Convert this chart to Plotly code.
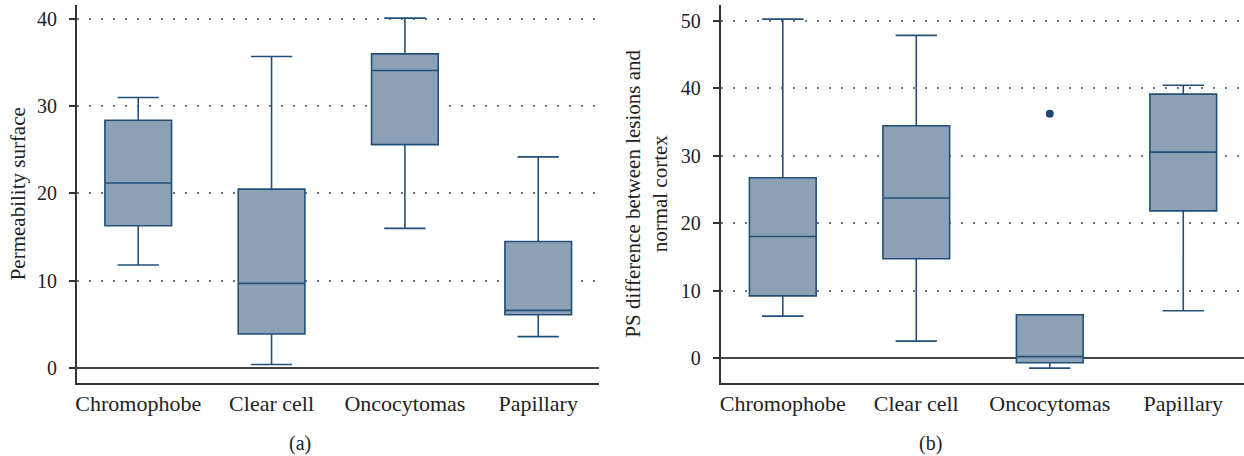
import plotly.graph_objects as go

categories = ["Chromophobe", "Clear cell", "Oncocytomas", "Papillary"]

# Panel (a): Permeability surface
a_low = [11.8, 0.4, 16.0, 3.6]
a_q1 = [16.3, 3.9, 25.6, 6.1]
a_med = [21.2, 9.7, 34.1, 6.6]
a_q3 = [28.4, 20.5, 36.0, 14.5]
a_high = [31.0, 35.7, 40.1, 24.2]

# Panel (b): PS difference between lesions and normal cortex
b_low = [6.2, 2.5, -1.5, 7.0]
b_q1 = [9.2, 14.7, -0.7, 21.8]
b_med = [18.0, 23.7, 0.2, 30.5]
b_q3 = [26.7, 34.4, 6.4, 39.1]
b_high = [50.2, 47.8, 6.4, 40.4]
b_outlier_cat = ["Oncocytomas"]
b_outlier_val = [36.2]

y_ticks_a = [0, 10, 20, 30, 40]
y_ticks_b = [0, 10, 20, 30, 40, 50]

FILL = "#8ca1b5"
LINE = "#22507a"
FONT = "Liberation Serif, DejaVu Serif, serif"
W, H = 1244, 456

fig = go.Figure()

fig.add_trace(go.Box(
    x=categories, q1=a_q1, median=a_med, q3=a_q3,
    lowerfence=a_low, upperfence=a_high,
    fillcolor=FILL, line=dict(color=LINE, width=1.6),
    width=0.5, whiskerwidth=0.62, boxpoints=False,
    xaxis="x", yaxis="y", showlegend=False, hoverinfo="skip",
))
fig.add_trace(go.Box(
    x=categories, q1=b_q1, median=b_med, q3=b_q3,
    lowerfence=b_low, upperfence=b_high,
    fillcolor=FILL, line=dict(color=LINE, width=1.6),
    width=0.5, whiskerwidth=0.62, boxpoints=False,
    xaxis="x2", yaxis="y2", showlegend=False, hoverinfo="skip",
))
fig.add_trace(go.Scatter(
    x=b_outlier_cat, y=b_outlier_val, mode="markers",
    marker=dict(color="#1d4670", size=8),
    xaxis="x2", yaxis="y2", showlegend=False, hoverinfo="skip",
))

ydom = [1 - 383 / H, 1 - 4.5 / H]

common_x = dict(
    type="category", categoryorder="array", categoryarray=categories,
    showline=True, linecolor="#333333", linewidth=2, ticks="",
    showgrid=False, zeroline=False,
    tickfont=dict(family=FONT, size=22, color="#222222"),
    ticklabelstandoff=0,
)
common_y = dict(
    showline=True, linecolor="#333333", linewidth=2,
    ticks="outside", ticklen=6, tickwidth=1.5, tickcolor="#333333",
    showgrid=True, gridcolor="#777777", gridwidth=1.5, griddash="2px,10px",
    zeroline=True, zerolinecolor="#444444", zerolinewidth=2,
    tickfont=dict(family=FONT, size=20, color="#222222"),
    ticklabelstandoff=8,
)

fig.update_layout(
    width=W, height=H,
    margin=dict(l=0, r=0, t=0, b=0),
    paper_bgcolor="white", plot_bgcolor="white",
    xaxis=dict(domain=[75 / W, 598 / W], range=[-0.46, 3.456], anchor="y", **common_x),
    xaxis2=dict(domain=[720 / W, 1.0], range=[-0.464, 3.455], anchor="y2", **common_x),
    yaxis=dict(domain=ydom, range=[-1.72, 41.66], anchor="x",
               tickvals=y_ticks_a,
               title=dict(text="Permeability surface", standoff=6,
                          font=dict(family=FONT, size=21, color="#222222")),
               **common_y),
    yaxis2=dict(domain=ydom, range=[-3.70, 52.37], anchor="x2",
                tickvals=y_ticks_b,
                title=dict(text="PS difference between lesions and<br>normal cortex", standoff=7,
                           font=dict(family=FONT, size=21, color="#222222")),
                **common_y),
    annotations=[
        dict(text="(a)", x=298 / W, y=1 - 443 / H, xref="paper", yref="paper",
             xanchor="center", yanchor="middle",
             showarrow=False, font=dict(family=FONT, size=20, color="#222222")),
        dict(text="(b)", x=930 / W, y=1 - 443 / H, xref="paper", yref="paper",
             xanchor="center", yanchor="middle",
             showarrow=False, font=dict(family=FONT, size=20, color="#222222")),
    ],
)

fig.write_html("out.html", config={"displayModeBar": False},
               post_script="document.body.style.margin='0';document.body.style.padding='0';")
